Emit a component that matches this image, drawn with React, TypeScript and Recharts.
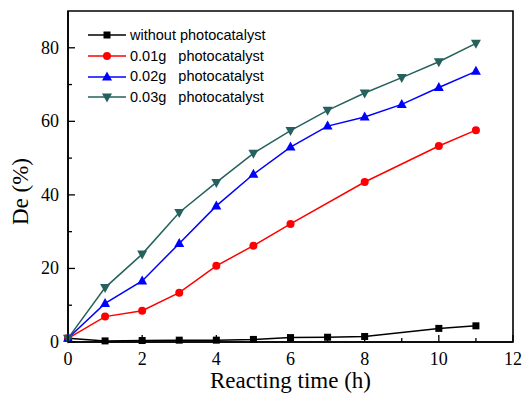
import { Line, LineChart, ReferenceArea, XAxis, YAxis } from "recharts";

// reacting time (h) per sample
const TIME_BLANK = [0, 1, 2, 3, 4, 5, 6, 7, 8, 10, 11];
const TIME_001 = [0, 1, 2, 3, 4, 5, 6, 8, 10, 11];
const TIME_FULL = [0, 1, 2, 3, 4, 5, 6, 7, 8, 9, 10, 11];

// degradation efficiency De (%)
const DE_BLANK = [1.0, 0.3, 0.4, 0.5, 0.5, 0.7, 1.2, 1.3, 1.5, 3.7, 4.4];
const DE_001 = [1.0, 6.9, 8.5, 13.4, 20.7, 26.2, 32.1, 43.5, 53.3, 57.6];
const DE_002 = [1.0, 10.5, 16.6, 26.8, 37.0, 45.6, 53.0, 58.7, 61.2, 64.6, 69.2, 73.6];
const DE_003 = [1.0, 14.8, 23.9, 35.2, 43.4, 51.3, 57.5, 63.0, 67.7, 71.9, 76.2, 81.2];

const X_TICKS = [0, 1, 2, 3, 4, 5, 6, 7, 8, 9, 10, 11, 12];
const Y_TICKS = [0, 10, 20, 30, 40, 50, 60, 70, 80];

const SERIF = "'Liberation Serif', 'Times New Roman', serif";
const SANS = "'Liberation Sans', Arial, sans-serif";

type Shape = "square" | "circle" | "up" | "down";

const SERIES: { key: string; name: string; color: string; shape: Shape; time: number[]; de: number[] }[] = [
  { key: "blank", name: "without photocatalyst", color: "#000000", shape: "square", time: TIME_BLANK, de: DE_BLANK },
  { key: "c001", name: "0.01g   photocatalyst", color: "#ff0000", shape: "circle", time: TIME_001, de: DE_001 },
  { key: "c002", name: "0.02g   photocatalyst", color: "#0000ff", shape: "up", time: TIME_FULL, de: DE_002 },
  { key: "c003", name: "0.03g   photocatalyst", color: "#25615d", shape: "down", time: TIME_FULL, de: DE_003 },
];

function Marker({ cx, cy, shape, color }: { cx: number; cy: number; shape: Shape; color: string }) {
  if (cx == null || cy == null) return null;
  if (shape === "square") return <rect x={cx - 3.5} y={cy - 3.5} width={7} height={7} fill={color} />;
  if (shape === "circle") return <circle cx={cx} cy={cy} r={4} fill={color} />;
  if (shape === "up")
    return <polygon points={`${cx},${cy - 5.5} ${cx - 5},${cy + 3.5} ${cx + 5},${cy + 3.5}`} fill={color} />;
  return <polygon points={`${cx},${cy + 5.5} ${cx - 5},${cy - 3.5} ${cx + 5},${cy - 3.5}`} fill={color} />;
}

function XTick(props: any) {
  const { x, y, payload } = props;
  const major = payload.value % 2 === 0;
  return (
    <g>
      <line x1={x} y1={y} x2={x} y2={y - (major ? 7 : 4)} stroke="#000" strokeWidth={1.3} />
      {major && (
        <text x={x} y={y + 23} textAnchor="middle" fontFamily={SERIF} fontSize={18} fill="#000">
          {payload.value}
        </text>
      )}
    </g>
  );
}

function YTick(props: any) {
  const { x, y, payload } = props;
  const major = payload.value % 20 === 0;
  return (
    <g>
      <line x1={x} y1={y} x2={x + (major ? 7 : 4)} y2={y} stroke="#000" strokeWidth={1.3} />
      {major && (
        <text x={x - 9} y={y + 6} textAnchor="end" fontFamily={SERIF} fontSize={18} fill="#000">
          {payload.value}
        </text>
      )}
    </g>
  );
}

function XTitle(props: any) {
  const { x, y, width } = props.viewBox;
  return (
    <text x={x + width / 2} y={y + 46} textAnchor="middle" fontFamily={SERIF} fontSize={23} fill="#000">
      Reacting time (h)
    </text>
  );
}

function YTitle(props: any) {
  const { x, y, height } = props.viewBox;
  const cx = x + 20;
  const cy = y + height / 2 + 15;
  return (
    <text x={cx} y={cy} transform={`rotate(-90 ${cx} ${cy})`} textAnchor="middle" dominantBaseline="central" fontFamily={SERIF} fontSize={23} fill="#000">
      De (%)
    </text>
  );
}

function LegendBox() {
  return (
    <div style={{ position: "absolute", left: 88, top: 25, fontFamily: SANS, fontSize: 14.5, color: "#000", lineHeight: "20.7px" }}>
      {SERIES.map((s) => (
        <div key={s.key} style={{ display: "flex", alignItems: "center", height: 20.7 }}>
          <svg width={40} height={14} style={{ marginRight: 2 }}>
            <line x1={0} y1={7} x2={38} y2={7} stroke={s.color} strokeWidth={1.5} />
            <Marker cx={19} cy={7} shape={s.shape} color={s.color} />
          </svg>
          <span style={{ whiteSpace: "pre" }}>{s.name}</span>
        </div>
      ))}
    </div>
  );
}

export default function App() {
  return (
    <div style={{ position: "absolute", left: 0, top: 0, width: 525, height: 397, background: "#fff" }}>
      <LineChart width={525} height={397} margin={{ top: 11, right: 12, bottom: 0, left: 0 }}>
        <XAxis
          type="number"
          dataKey="t"
          domain={[0, 12]}
          ticks={X_TICKS}
          interval={0}
          tickLine={false}
          tickSize={0}
          tickMargin={0}
          tick={<XTick />}
          height={55}
          axisLine={{ stroke: "#000", strokeWidth: 1.6 }}
          label={<XTitle />}
          allowDuplicatedCategory={false}
        />
        <YAxis
          type="number"
          domain={[0, 90]}
          ticks={Y_TICKS}
          interval={0}
          tickLine={false}
          tickSize={0}
          tickMargin={0}
          tick={<YTick />}
          width={68}
          axisLine={{ stroke: "#000", strokeWidth: 1.6 }}
          label={<YTitle />}
        />
        <ReferenceArea x1={0} x2={12} y1={0} y2={90} fill="none" stroke="#000" strokeWidth={1.6} />
        {SERIES.map((s) => (
          <Line
            key={s.key}
            data={s.time.map((t, i) => ({ t, v: s.de[i] }))}
            dataKey="v"
            name={s.name}
            stroke={s.color}
            strokeWidth={1.5}
            isAnimationActive={false}
            dot={(p: any) => <Marker key={`${s.key}-${p.index}`} cx={p.cx} cy={p.cy} shape={s.shape} color={s.color} />}
            activeDot={false}
          />
        ))}
      </LineChart>
      <LegendBox />
    </div>
  );
}
